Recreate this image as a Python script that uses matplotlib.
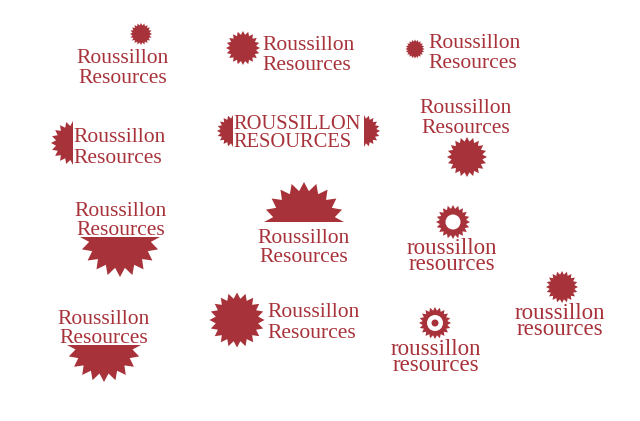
import numpy as np
import matplotlib
matplotlib.use("Agg")
import matplotlib.pyplot as plt
from matplotlib.patches import Polygon, Circle, Rectangle

RED = "#a8323a"
FONT = "Liberation Serif"
DESC = 0.217  # descender of "p" in Liberation Serif, in em

# logo texts (line 1, line 2)
mixed = "Roussillon\nResources"
caps = "ROUSSILLON\nRESOURCES"
lower = "roussillon\nresources"

# text blocks: (text, x, baseline of 2nd line, ha, fontsize, linespacing)
blocks = [
    (mixed, 123, 83, "center", 15.5, 1.04),
    (mixed, 262, 70, "left", 15.5, 1.04),
    (mixed, 428, 68, "left", 15.5, 1.04),
    (mixed, 73, 163, "left", 15.5, 1.1),
    (caps, 233, 148, "left", 14.8, 0.96),
    (mixed, 466, 133, "center", 15.5, 1.04),
    (mixed, 121, 235, "center", 15.5, 0.95),
    (mixed, 304, 262, "center", 15.5, 1.0),
    (lower, 452, 270, "center", 16.5, 0.66),
    (mixed, 104, 343, "center", 15.5, 0.95),
    (mixed, 267, 338, "left", 15.5, 1.1),
    (lower, 436, 371, "center", 16.5, 0.66),
    (lower, 560, 335, "center", 16.5, 0.66),
]

# sunbursts: (cx, cy, radius, clip) clip: None, 'left', 'right', 'top', 'bottom'
stars = [
    (141, 34, 11, None),
    (243, 48, 17, None),
    (415, 49, 9.5, None),
    (73, 143, 22, "left"),
    (233, 131, 16, "left"),
    (364, 131, 16, "right"),
    (467, 157, 20, None),
    (120, 237, 40, "bottom"),
    (304, 222, 40, "top"),
    (453, 222, 17, None),
    (104, 345, 37, "bottom"),
    (237, 320, 27.5, None),
    (435, 323, 16, None),
    (562, 287, 16, None),
]

# rings cut out of stars: (cx, cy, ring outer, ring inner)
holes = [
    (453, 222, 7.5, 0),
    (435, 323, 8, 3.5),
]


def sunburst(cx, cy, r, n=20, ratio=0.78):
    ang = np.linspace(0, 2 * np.pi, 2 * n, endpoint=False) - np.pi / 2
    rad = np.where(np.arange(2 * n) % 2 == 0, r, r * ratio)
    return np.column_stack([cx + rad * np.cos(ang), cy + rad * np.sin(ang)])


fig = plt.figure(figsize=(6.4, 4.21), dpi=100)
ax = fig.add_axes([0, 0, 1, 1])
ax.set_xlim(0, 640)
ax.set_ylim(421, 0)
ax.axis("off")

for cx, cy, r, clip in stars:
    poly = Polygon(sunburst(cx, cy, r), closed=True, fc=RED, ec="none")
    ax.add_patch(poly)
    if clip:
        box = {
            "left": (cx - r - 1, cy - r - 1, r + 1, 2 * r + 2),
            "right": (cx, cy - r - 1, r + 1, 2 * r + 2),
            "top": (cx - r - 1, cy - r - 1, 2 * r + 2, r + 1),
            "bottom": (cx - r - 1, cy, 2 * r + 2, r + 1),
        }[clip]
        rect = Rectangle(box[:2], box[2], box[3], transform=ax.transData)
        poly.set_clip_path(rect)

for cx, cy, ro, ri in holes:
    ax.add_patch(Circle((cx, cy), ro, fc="white", ec="none"))
    if ri > 0:
        ax.add_patch(Circle((cx, cy), ri, fc=RED, ec="none"))

for txt, x, b2, ha, fs, ls in blocks:
    # anchor on the bottom of the block: last baseline + descender
    y = b2 + DESC * fs * 100 / 72
    ax.text(x, y, txt, ha=ha, va="bottom", multialignment=ha, color=RED,
            fontsize=fs, family=FONT, linespacing=ls)

fig.savefig("out.png", dpi=100, facecolor="white")
